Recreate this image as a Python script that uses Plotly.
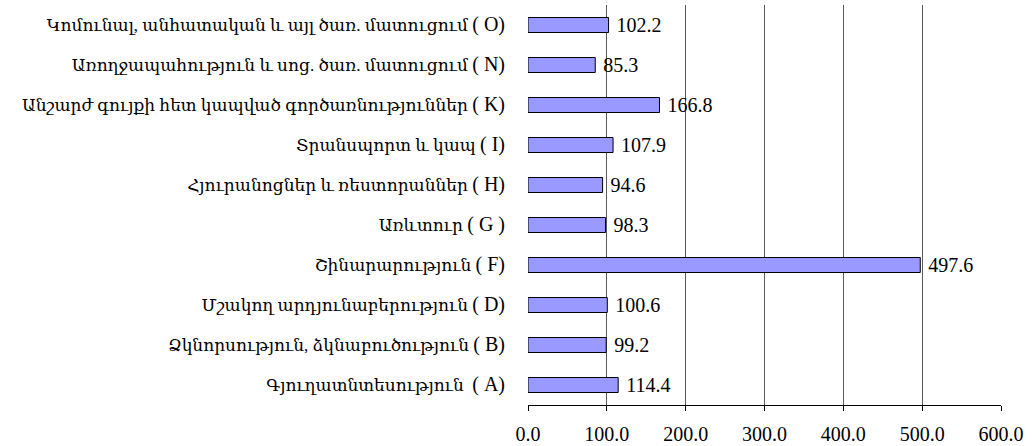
import plotly.graph_objects as go

categories = [
    "Գյուղատնտեսություն  ( A)",
    "Ձկնորսություն, ձկնաբուծություն ( B)",
    "Մշակող արդյունաբերություն ( D)",
    "Շինարարություն ( F)",
    "Առևտուր ( G )",
    "Հյուրանոցներ և ռեստորաններ ( H)",
    "Տրանսպորտ և կապ ( I)",
    "Անշարժ գույքի հետ կապված գործառնություններ ( K)",
    "Առողջապահություն և սոց. ծառ. մատուցում ( N)",
    "Կոմունալ, անհատական և այլ ծառ. մատուցում ( O)",
]
values = [114.4, 99.2, 100.6, 497.6, 98.3, 94.6, 107.9, 166.8, 85.3, 102.2]
x_ticks = [0, 100, 200, 300, 400, 500, 600]

font_family = "Liberation Serif, DejaVu Serif, serif"


def styled_label(label):
    # Armenian part at base size, Latin section code slightly larger
    idx = label.rfind("(")
    head, code = label[:idx], label[idx:]
    return head + "<span style='font-size:20px'>" + code + "</span>"


tick_text = [styled_label(c) for c in categories]

fig = go.Figure(
    go.Bar(
        x=values,
        y=categories,
        orientation="h",
        marker=dict(color="#9999FF", line=dict(color="#000000", width=1)),
        text=values,
        texttemplate=" %{x:.1f}",
        textposition="outside",
        constraintext="none",
        textfont=dict(family=font_family, size=20, color="#000000"),
        cliponaxis=False,
    )
)

fig.update_layout(
    width=1032,
    height=446,
    margin=dict(l=528, r=31, t=5, b=41),
    paper_bgcolor="white",
    plot_bgcolor="white",
    bargap=0.625,
    showlegend=False,
    font=dict(family=font_family, size=17, color="#000000"),
)

fig.update_xaxes(
    range=[0, 600],
    tickvals=x_ticks,
    tickformat=".1f",
    showgrid=True,
    gridcolor="#5a5a5a",
    gridwidth=1,
    zeroline=True,
    zerolinecolor="white",
    showline=True,
    linecolor="#000000",
    linewidth=1,
    ticks="outside",
    ticklen=5,
    tickcolor="#000000",
    ticklabelstandoff=6,
    tickfont=dict(family=font_family, size=20),
    automargin=False,
)

fig.update_yaxes(
    tickvals=categories,
    ticktext=tick_text,
    showgrid=False,
    showline=False,
    ticks="",
    ticklabelstandoff=22,
    tickfont=dict(family=font_family, size=17),
    automargin=False,
)

fig.write_html(
    "out.html",
    config={"displayModeBar": False},
    post_script="document.body.style.margin='0';document.body.style.overflow='hidden';",
)
